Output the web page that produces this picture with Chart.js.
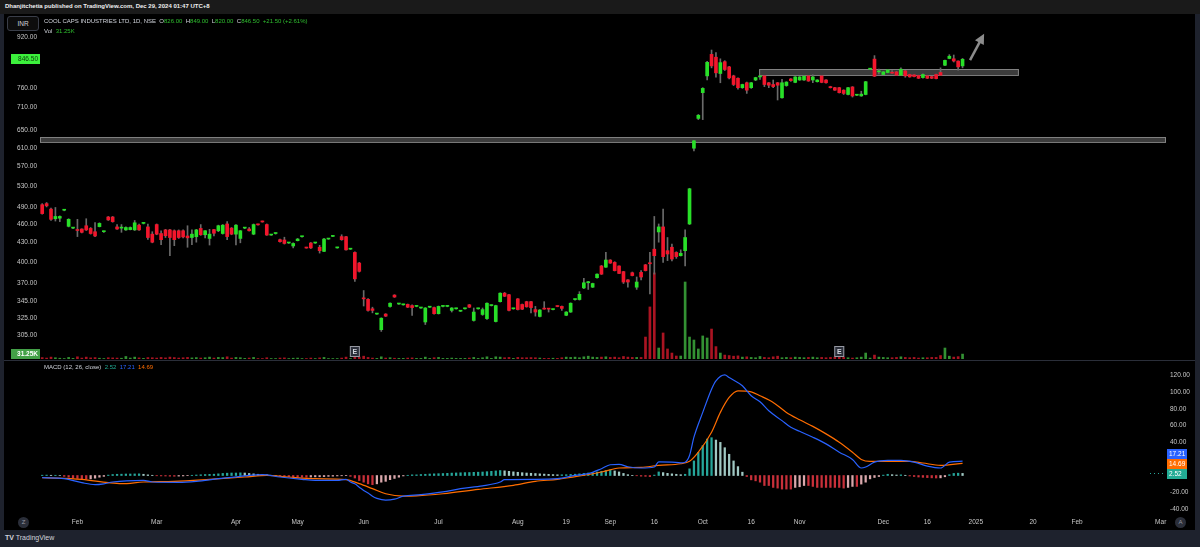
<!DOCTYPE html>
<html><head><meta charset="utf-8">
<script src="https://cdn.jsdelivr.net/npm/chart.js@4.4.1/dist/chart.umd.min.js"></script>
<style>
html,body{margin:0;padding:0;background:#000;width:1200px;height:547px;overflow:hidden;font-family:'Liberation Sans',Arial,sans-serif;}
.abs{position:absolute;white-space:nowrap;}
#topbar{left:0;top:0;width:1200px;height:14px;background:#1a1a1a;}
#pub{left:5px;top:3px;font-size:6px;font-weight:bold;color:#f0f0f0;}
#inr{left:7px;top:16px;width:30px;height:13px;border:1px solid #3a3e49;border-radius:3px;background:#0d0d0d;color:#d1d4dc;font-size:6.5px;text-align:center;line-height:13px;}
#l1{left:44px;top:18px;font-size:6px;color:#d1d4dc;}
#l2{left:44px;top:28px;font-size:6px;color:#d1d4dc;}
.g{color:#2fbf2f;}
#macdLeg{left:44px;top:364px;font-size:6px;color:#d1d4dc;}
#bottombar{left:0;top:530px;width:1200px;height:17px;background:#1e222d;}
#tv{left:5px;top:534px;font-size:7px;color:#d1d4dc;}
#sep{left:4px;top:360px;width:1191px;height:1px;background:#2a2e39;}
#lframe{left:0;top:14px;width:4px;height:516px;background:#1e222d;}
#rframe{left:1195px;top:14px;width:5px;height:516px;background:#1e222d;}
.circ{width:11px;height:11px;border-radius:6px;background:#2a2e39;color:#9598a1;font-size:6px;text-align:center;line-height:11px;}
canvas{position:absolute;left:0;}
</style></head>
<body>
<div class="abs" id="topbar"></div>
<div class="abs" id="pub">Dhanjitchetia published on TradingView.com, Dec 29, 2024 01:47 UTC+8</div>
<canvas id="cPrice" width="1200" height="345" style="top:14px"></canvas>
<canvas id="cMacd" width="1200" height="170" style="top:360px"></canvas>
<div class="abs" id="sep"></div>
<div class="abs" id="inr">INR</div>
<div class="abs" id="l1">COOL CAPS INDUSTRIES LTD, 1D, NSE&nbsp;&nbsp;O<span class="g">826.00</span>&nbsp;&nbsp;H<span class="g">849.00</span>&nbsp;&nbsp;L<span class="g">820.00</span>&nbsp;&nbsp;C<span class="g">846.50</span>&nbsp;&nbsp;<span class="g">+21.50 (+2.61%)</span></div>
<div class="abs" id="l2">Vol&nbsp;&nbsp;<span class="g">31.25K</span></div>
<div class="abs" id="macdLeg">MACD (12, 26, close)&nbsp;&nbsp;<span style="color:#22ab94">2.52</span>&nbsp;&nbsp;<span style="color:#2962ff">17.21</span>&nbsp;&nbsp;<span style="color:#ff6d00">14.69</span></div>
<div class="abs" id="lframe"></div>
<div class="abs" id="rframe"></div>
<div class="abs circ" style="left:18px;top:517px;">Z</div>
<div class="abs circ" style="left:1175px;top:517px;">A</div>
<div class="abs" id="bottombar"></div>
<div class="abs" id="tv"><b>TV</b> TradingView</div>
<script>
// ---------- data ----------
const opens = [
494,496,486,469,470,484,456,453,450,451.5,
457,452.5,447,455.5,447,472,472,455,453,450,
450.5,450,458,461,455,443,459,444,450,450,
448.6,448.6,448.6,440,437.5,438.8,452.5,442,436,450.5,
448.6,444,460,453,443,436,453,451.5,443,459,
464,459,441.5,444,434,433.5,428.7,424,432.4,438.8,
421,428.7,428.7,422,415.6,435,439.3,421,439,438.8,
419,414,398,349,348,336,329.5,311,329.5,338.9,
353.5,342,341,341.5,340,339,337,320,338,337.5,
330,339,339,334,336,333,336,341,321.8,336,
329,324,340,320.5,345,356,354,336,348.6,341.4,
345,345,335,326.6,335.8,335.8,335,339,339,328,
332,347.7,347.7,363,370,364,377,393.7,392,402.5,
399,393.7,385.6,374,384,364,384.5,395.4,398,419,
446.6,455,416.7,422,414,409,416.7,460,609,680,
748,796,862,853,803,839,823,796,789,762,
776,762,784,793,796,776,771,776,734,768,
787,777,784,784,796,784,779,796,784,765,
762,762,755,743,764,741,739,743,816,847,
808,800,806,806,808,798,811,800,799,797,
791,796,794,800,806,828,849,848,841,826];
const highs = [
496,498,488,489,474,485,469,454,468,452,
469,454,462.5,462,448,473,473,459,459,455,
455,466,460,462,460,447,460,448.6,451,451,
450,450,450,457,450,451,459,449,451,451,
458,459,464,454,459,449,454,454,460,460,
465,460,442,445,435,438,429,429,436,439.5,
421.5,429.5,429.5,425,436,436,440,421.5,442,439.5,
419.5,415,399,359.5,349,338,330,325,330,343.5,
354,342.5,341.5,342,341,339.5,337.5,337.5,338.5,338,
339.5,339.5,339.5,337.5,336.5,333.5,336.5,341.5,337,336.5,
337,343.5,340.5,340.5,356.5,357,354.5,336.5,349,342,
345.5,345.5,339,335,345,336,335.5,339.5,339.5,332.5,
343.5,348,358,376,372,369.5,382.5,394.5,414,403,
400,394,386,374.5,385,378,387,396,414,473,
460,486,437.5,427,415,418,450,525,627,690,
762,840,876,868,848,842,825,798,790,772,
778,777,792,794,797,777,784,777,786,779,
788,794,794,796,797,799,785,797,785,766,
763,763,756,763,765,742,752,780,817,858,
816,809,815,812,809,820,812,801,800,798,
802,797,795,801,820,844,861,860,842,849];
const lows = [
477,490,466,465,464,483,455,452,439,445,
449,443,439,455,446,466,463,451,446,449,
450,449,449,460,434.5,429,442,426,437.5,409,
424.5,436,437,422,426,430,441,437,425.5,440,
447,443,434,442,425.5,429,452,448,442,458,
463,441,441,443,430,427,428,421,432,438,
420.5,420,428,413,415,434.5,439,420.5,433,417.5,
418.5,372,385,339.5,333,331,329,309,326.5,338,
350.5,341.5,340.5,337.5,328,338.5,336.5,317,337.5,329.5,
329.5,338.5,338.5,332,335.5,332.5,335.5,337.5,321,335.5,
328,323,339.5,320,344.5,351.5,333.5,335.5,334.5,335,
338,331,327,326,335.5,332,334.5,338.5,334,327.5,
331.5,347,347,362,361,363.5,376.5,381.5,391.5,397.5,
386.5,382.5,369,364,379.5,361,374,386.5,355,382,
430,399,401.6,401,405,408.5,393.7,459,603,677,
677,784,820,792,776,812,787,768,758,760,
746,760,782,786,765,762,762,728,733,766,
780,776,783,783,780,776,778,776,775,761,
754,747,743,742,736,740,738,742,815,794,
802,799,805,803,797,797,792,792,793,788,
789,788,788,787,797,827,848,838,813,820];
const closes = [
478,492,468,473,473,484.5,468,453.5,449,446,
450,444,440,461,447.5,467,464,451.5,453.5,454,
454,462,450,461.5,437.5,430,443,434,440.4,437.5,
434,437.5,438.5,437,443,450,442,448.6,443,444.5,
457,458,439,443,458,448.6,453.5,448.6,459,458.5,
463.5,441.5,442,444.5,430.8,428,429,428,435,439.3,
420.8,421,429.2,416.7,435,435.5,439.8,421.3,434,418,
419.3,375.4,386,348.6,334,334,330,324.5,327,343,
351,342.3,341.3,338,337.5,339.3,337.3,337,338.3,330,
339,339.3,339.3,337,336.3,333.3,336.3,338,332,336.3,
335,343,340.3,340,356,352,334,336.3,335,335.5,
338.5,337.5,332,334.5,335.6,335.6,335.3,338.8,336.5,332,
343,347.9,354.5,370,371.5,369,382,382,402.5,398,
387,383,371,371,380,371,378,387,397,409,
455,407.6,411.6,404,407.6,412.6,437.5,524,626,688,
760,837,826,805,836,815,790,771,762,771,
755,776,791,793.5,771,769,765,769,776,778,
782,793,793,795,781,793,784,777,776,762,
755,748,746,762,739,741.5,744,779,816.5,795,
810,808,814,804,798,816,796,793,794,789,
800,789,789,788,798,843,856,841,823,846.5];
const volumesK = [
9,6,12,8,5,3,10,4,14,6,
12,7,9,5,3,8,7,6,5,16,
6,12,7,4,9,8,6,10,7,12,
9,6,8,10,7,9,6,8,12,6,
10,9,14,6,10,8,4,6,10,3,
3,8,3,3,6,7,3,5,6,3,
3,6,3,7,10,3,3,3,6,12,
3,16,12,18,10,6,4,14,6,8,
5,4,4,6,7,4,4,12,4,8,
10,4,4,6,4,4,4,6,10,4,
8,14,4,14,12,8,10,4,10,8,
8,9,8,6,4,4,5,4,8,12,
10,12,8,14,18,12,10,12,14,10,
12,8,16,12,10,10,10,140,332,549,
70,166,64,38,19,19,491,140,121,64,
147,134,191,79,38,25,22,18,20,12,
14,10,8,16,10,8,14,18,8,10,
8,12,10,8,10,12,8,10,8,10,
12,14,10,8,6,8,12,38,6,25,
12,10,8,8,10,14,10,8,10,6,
8,8,10,10,22,70,18,12,15,31.25];
const macdHist = [
0.4,0.5,0.3,0.3,0.1,-1,-2,-3,-3.5,-4,
-4.5,-4,-3.2,-2,-1,0.5,1.2,1.5,1.6,1.8,
1.8,1.9,2.0,1.5,0.8,0.3,-0.3,-0.5,-0.6,-0.8,
-0.9,-0.7,-0.5,-0.2,0.3,0.6,0.9,1.2,1.4,1.6,
2,2.5,2.8,3,3,3.2,3,2.5,2,1.5,
1.2,0.8,0.3,0,-0.5,-1,-1.3,-1.6,-1.8,-2,
-2,-1.8,-1.6,-1.5,-1.3,-1,-0.8,-0.5,-0.3,-0.2,
-1,-3,-6,-8,-10,-11,-10,-8,-7,-5,
-3.5,-2,-0.5,0.3,0.8,0.8,1.2,1.5,1.8,2.0,
2.2,2.4,2.6,2.9,3.1,3.3,3.5,3.6,3.8,4.0,
4.2,4.6,5.0,5.5,6.0,5.6,5.0,4.4,3.9,3.4,
3.0,2.7,2.4,2.0,1.7,1.4,1.1,0.9,0.9,1.0,
1.3,1.6,2.0,2.5,3.0,3.5,4.2,5.0,6.0,6.8,
5.5,4.3,2.5,1.0,0.2,-0.3,-0.8,-1.0,-1.3,0.5,
4.3,3.5,2.6,2.0,1.5,1.0,1.5,8,17.5,27.8,
35.8,43.8,45.4,42.6,39.8,33.4,25.5,17.5,10.7,4,
-1.2,-5.2,-6.4,-8,-12,-12,-14.3,-15.1,-16.3,-16.3,
-16.3,-14.3,-13.5,-12,-12,-13.1,-14.3,-14.3,-14.3,-14.3,
-14.3,-14.3,-15.1,-14.3,-13.1,-13.1,-10.3,-8,-4,-2.4,
-1.2,0.5,1.5,1.0,0.6,0.8,0.3,-0.5,-1.2,-1.8,
-2.2,-2.5,-2.8,-3,-2.8,-1.5,1.0,2.5,2.8,2.52];
// MACD line and signal line, read at these bar indices
const macdIdx = [0,5,9,12,14,16,23,25,31,35,40,43,47,50,54,59,62,67,69,70,71,72,73,74,75,76,78,80,82,86,91,95,100,104,105,112,117,121,124,127,129,131,133,136,139,140,143,145,146,147,148,150,152,153,155,156,159,161,163,165,168,170,172,175,178,181,184,186,187,189,192,195,198,201,204,206,209];
const macdVal = [-2.6,-3.8,-8.6,-11,-10,-7.8,-5.8,-7.8,-8.2,-7,-3.8,-2.2,0.2,1,-1.8,-4.6,-5.8,-5.8,-4.6,-7.8,-10,-14,-18,-21,-25,-27.5,-29.6,-28.4,-24.8,-22.9,-19.7,-15.8,-12.5,-7.8,-5,-4.6,-3.8,0.2,2.2,8.2,12.9,13.3,10.5,9,10.2,16.5,16.1,15.3,16,24,46,75.8,103.7,113.7,120.8,117.6,107.7,95.8,88.6,77.8,65.9,57.9,53.1,46,38,28,19.3,9,10.2,16.1,18.1,18.1,16,11.3,9,16,17.21];
const sigIdx = [0,9,15,18,23,30,38,46,51,56,62,69,72,75,78,82,85,91,99,107,112,117,122,127,131,136,140,145,147,149,152,154,156,158,161,163,166,169,172,175,178,181,184,186,188,192,197,200,204,209];
const sigVal = [-2.6,-4.6,-8.6,-9.8,-7.8,-7,-4.6,-1.8,0.2,-1.8,-3.8,-5,-9.8,-15.8,-21.9,-24.8,-24.5,-21.9,-16.7,-11.8,-7,-4.6,-0.6,4.2,9,9.8,12.2,14.1,17,28,52,75.8,93.7,101.7,100.5,95.8,87.8,75.8,67,59,50,40,28,19.3,17,17,17,15,12.2,14.69];
const priceTicks = [920,760,710,650,610,570,530,490,460,430,400,370,345,325,305];
const macdTicks = [120,100,80,60,40,20,0,-20,-40];
const tickIdx = [8,26,44,58,73,90,108,119,129,139,150,161,172,191,201,212,225,235,254];
const tickLabels = ['Feb','Mar','Apr','May','Jun','Jul','Aug','19','Sep','16','Oct','16','Nov','Dec','16','2025','20','Feb','Mar'];
// drawn zones: [startIdx, endIdx, highPrice, lowPrice]
const zoneStart = [-0.5, 162.8];
const zoneEnd = [255.2, 221.8];
const zoneHigh = [634, 816];
const zoneLow = [623, 798];
const arrowFrom = [210.7, 844];
const arrowTo = [213.9, 930];
const earningsIdx = [71, 181];

// ---------- build ----------
const FONT = "'Liberation Sans', Arial, sans-serif";
const AX = 6.5;
const UP = '#28e028', DN = '#f2162c';
const N = closes.length;
const bodies = [], wicks = [], vols = [], bodyCol = [], volCol = [];
for (let i = 0; i < N; i++) {
  bodies.push({x: i, y: [opens[i], closes[i]]});
  wicks.push({x: i, y: [lows[i], highs[i]]});
  vols.push({x: i, y: volumesK[i]});
  const up = closes[i] >= opens[i];
  bodyCol.push(up ? UP : DN);
  volCol.push(up ? 'rgba(60,170,60,0.85)' : 'rgba(200,24,40,0.85)');
}
const histPts = [], histCol = [];
for (let i = 0; i < macdHist.length; i++) {
  histPts.push({x: i, y: macdHist[i]});
  const h = macdHist[i], p = i > 0 ? macdHist[i-1] : h;
  if (h >= 0) histCol.push(h >= p ? '#26a69a' : '#a0c8c3');
  else histCol.push(h <= p ? '#c8303a' : '#d9a7ab');
}
const macdPts = macdIdx.map((x, k) => ({x, y: macdVal[k]}));
const sigPts = sigIdx.map((x, k) => ({x, y: sigVal[k]}));

function noPadY(s) { s.paddingTop = 0; s.paddingBottom = 0; }
function noPadX(s) { s.paddingLeft = 0; s.paddingRight = 0; }

const priceOverlay = {
  id: 'priceOverlay',
  beforeDatasetsDraw(chart) {
    const {ctx, scales: {x, y}} = chart;
    ctx.save();
    for (let k = 0; k < zoneStart.length; k++) {
      const x0 = x.getPixelForValue(zoneStart[k]), x1 = x.getPixelForValue(zoneEnd[k]);
      const y0 = y.getPixelForValue(zoneHigh[k]), y1 = y.getPixelForValue(zoneLow[k]);
      ctx.fillStyle = 'rgba(110,110,110,0.55)';
      ctx.fillRect(x0, y0, x1 - x0, y1 - y0);
      ctx.strokeStyle = 'rgba(150,150,150,0.8)';
      ctx.lineWidth = 1;
      ctx.strokeRect(x0 + 0.5, Math.round(y0) + 0.5, x1 - x0 - 1, Math.round(y1 - y0));
    }
    ctx.restore();
  },
  afterDatasetsDraw(chart) {
    const {ctx, chartArea, scales: {x, y}} = chart;
    ctx.save();
    const ax0 = x.getPixelForValue(arrowFrom[0]), ay0 = y.getPixelForValue(arrowFrom[1]);
    const ax1 = x.getPixelForValue(arrowTo[0]), ay1 = y.getPixelForValue(arrowTo[1]);
    const ang = Math.atan2(ay1 - ay0, ax1 - ax0);
    ctx.strokeStyle = '#8c8c8c'; ctx.fillStyle = '#8c8c8c'; ctx.lineWidth = 2.5;
    ctx.beginPath(); ctx.moveTo(ax0, ay0);
    ctx.lineTo(ax1 - 6 * Math.cos(ang), ay1 - 6 * Math.sin(ang)); ctx.stroke();
    ctx.beginPath();
    ctx.moveTo(ax1, ay1);
    ctx.lineTo(ax1 - 10 * Math.cos(ang) + 5 * Math.sin(ang), ay1 - 10 * Math.sin(ang) - 5 * Math.cos(ang));
    ctx.lineTo(ax1 - 10 * Math.cos(ang) - 5 * Math.sin(ang), ay1 - 10 * Math.sin(ang) + 5 * Math.cos(ang));
    ctx.closePath(); ctx.fill();
    ctx.font = 'bold 7px ' + FONT; ctx.textAlign = 'center'; ctx.textBaseline = 'middle';
    for (const e of earningsIdx) {
      const ex = x.getPixelForValue(e);
      const ey = chartArea.bottom - 13;
      ctx.fillStyle = '#2a2e39'; ctx.strokeStyle = '#9598a1'; ctx.lineWidth = 1;
      ctx.fillRect(ex - 5, ey, 10, 11); ctx.strokeRect(ex - 5 + 0.5, ey + 0.5, 9, 10);
      ctx.fillStyle = '#d1d4dc'; ctx.fillText('E', ex, ey + 6);
    }
    const lp = closes[N - 1];
    const ly = y.getPixelForValue(lp);
    ctx.fillStyle = '#3cf03c';
    ctx.fillRect(11, Math.round(ly) - 5, 29, 10);
    ctx.fillStyle = '#0b3b0b'; ctx.font = AX + 'px ' + FONT; ctx.textAlign = 'right';
    ctx.fillText(lp.toFixed(2), 38, Math.round(ly));
    ctx.fillStyle = '#43a047';
    ctx.fillRect(11, chartArea.bottom - 10, 29, 10);
    ctx.fillStyle = '#ffffff'; ctx.font = 'bold ' + AX + 'px ' + FONT;
    ctx.fillText(volumesK[N - 1].toFixed(2) + 'K', 38, chartArea.bottom - 5);
    ctx.restore();
  }
};

new Chart(document.getElementById('cPrice'), {
  type: 'bar',
  data: {datasets: [
    {data: vols, yAxisID: 'yv', backgroundColor: volCol, barThickness: 2, grouped: false, order: 3},
    {data: wicks, yAxisID: 'y', backgroundColor: '#6a6a6a', barThickness: 1, grouped: false, minBarLength: 1, order: 2},
    {data: bodies, yAxisID: 'y', backgroundColor: bodyCol, barThickness: 3, grouped: false, minBarLength: 1, order: 1}
  ]},
  options: {
    responsive: false, animation: false, devicePixelRatio: 1,
    layout: {padding: {left: 0, right: 34, top: 0, bottom: 0}},
    plugins: {legend: {display: false}, tooltip: {enabled: false}},
    scales: {
      x: {type: 'linear', offset: false, min: -0.5, max: 255.2, display: false},
      y: {type: 'logarithmic', position: 'left', min: 279, max: 1001,
          afterFit(s) { s.width = 40; noPadY(s); },
          afterBuildTicks(s) { s.ticks = priceTicks.map(v => ({value: v})); },
          ticks: {callback: v => Number(v).toFixed(2), color: '#c8c8c8', font: {size: AX, family: FONT}, padding: 3, autoSkip: false},
          grid: {display: false, drawTicks: false}, border: {display: false}},
      yv: {type: 'linear', display: false, min: 0, max: 2200}
    }
  },
  plugins: [priceOverlay]
});

const macdOverlay = {
  id: 'macdOverlay',
  afterDraw(chart) {
    const {ctx, scales: {y}} = chart;
    const boxes = [[macdVal[macdVal.length-1], '#2962ff'], [sigVal[sigVal.length-1], '#ff6d00'], [macdHist[macdHist.length-1], '#22ab94']];
    const ys = [454 - 360, 464 - 360, 474 - 360];
    ctx.save();
    ctx.font = AX + 'px ' + FONT; ctx.textAlign = 'left'; ctx.textBaseline = 'middle';
    boxes.forEach((b, k) => {
      ctx.fillStyle = b[1];
      ctx.fillRect(1167, ys[k] - 5, 20, 10);
      ctx.fillStyle = '#ffffff';
      ctx.fillText(b[0].toFixed(2), 1169, ys[k]);
    });
    ctx.strokeStyle = '#26a69a'; ctx.setLineDash([1, 3]); ctx.lineWidth = 1;
    const zy = Math.round(y.getPixelForValue(macdHist[macdHist.length-1])) + 0.5;
    ctx.beginPath(); ctx.moveTo(1150, zy); ctx.lineTo(1166, zy); ctx.stroke();
    ctx.restore();
  }
};

new Chart(document.getElementById('cMacd'), {
  type: 'bar',
  data: {datasets: [
    {type: 'line', data: macdPts, borderColor: '#2962ff', borderWidth: 1.2, pointRadius: 0, cubicInterpolationMode: 'monotone', order: 1},
    {type: 'line', data: sigPts, borderColor: '#ff6d00', borderWidth: 1.2, pointRadius: 0, cubicInterpolationMode: 'monotone', order: 2},
    {type: 'bar', data: histPts, backgroundColor: histCol, barThickness: 1.6, grouped: false, order: 3}
  ]},
  options: {
    responsive: false, animation: false, devicePixelRatio: 1,
    layout: {padding: {left: 40, right: 0, top: 1, bottom: 0}},
    plugins: {legend: {display: false}, tooltip: {enabled: false}},
    scales: {
      x: {type: 'linear', offset: false, min: -0.5, max: 255.2, position: 'bottom',
          afterFit(s) { s.height = 17; noPadX(s); },
          afterBuildTicks(s) { s.ticks = tickIdx.map(v => ({value: v})); },
          ticks: {callback: v => tickLabels[tickIdx.indexOf(v)], color: '#c8c8c8', font: {size: AX, family: FONT}, padding: 5, autoSkip: false, maxRotation: 0},
          grid: {display: false, drawTicks: false, offset: false}, border: {display: false}},
      y: {position: 'right', min: -45, max: 137.5,
          afterFit(s) { s.width = 34; noPadY(s); },
          afterBuildTicks(s) { s.ticks = macdTicks.map(v => ({value: v})); },
          ticks: {callback: v => Number(v).toFixed(2), color: '#c8c8c8', font: {size: AX, family: FONT}, padding: 4, autoSkip: false},
          grid: {display: false, drawTicks: false}, border: {display: false}}
    }
  },
  plugins: [macdOverlay]
});
</script>
</body></html>
